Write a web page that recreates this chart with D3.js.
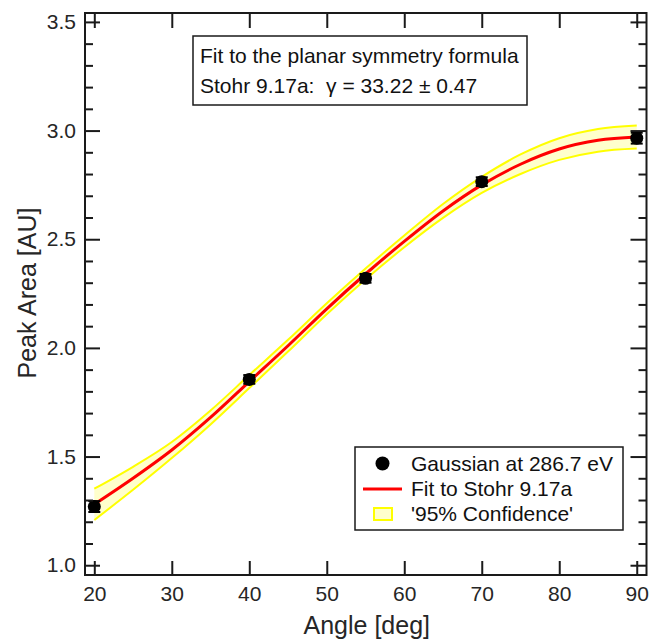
<!DOCTYPE html>
<html>
<head>
<meta charset="utf-8">
<script src="https://cdn.jsdelivr.net/npm/d3@7"></script>
<style>
  html, body { margin: 0; padding: 0; background: #fff; }
  svg { display: block; font-family: "Liberation Sans", Arial, Helvetica, sans-serif; }
</style>
</head>
<body>
<svg id="chart" width="652" height="640"></svg>
<script>
// ---- data ----
const angles = [20, 40, 55, 70, 90];
const peakArea = [1.27, 1.855, 2.32, 2.765, 2.965];
const peakErr = [0.025, 0.02, 0.02, 0.02, 0.025];

const fitAngles = [20, 25, 30, 35, 40, 45, 50, 55, 60, 65, 70, 75, 80, 85, 90];
const fitValues = [1.28, 1.40, 1.53, 1.68, 1.845, 2.01, 2.18, 2.34, 2.49, 2.63, 2.75, 2.845, 2.915, 2.955, 2.97];
const bandUpper = [1.352, 1.453, 1.567, 1.712, 1.875, 2.037, 2.205, 2.365, 2.517, 2.662, 2.787, 2.89, 2.965, 3.007, 3.023];
const bandLower = [1.208, 1.347, 1.493, 1.648, 1.815, 1.983, 2.155, 2.315, 2.463, 2.598, 2.713, 2.80, 2.865, 2.903, 2.917];

const xTicks = [20, 30, 40, 50, 60, 70, 80, 90];
const yTicks = [1.0, 1.5, 2.0, 2.5, 3.0, 3.5];
const yMinorTicks = [1.1, 1.2, 1.3, 1.4, 1.6, 1.7, 1.8, 1.9, 2.1, 2.2, 2.3, 2.4, 2.6, 2.7, 2.8, 2.9, 3.1, 3.2, 3.3, 3.4];

const xLabel = "Angle [deg]";
const yLabel = "Peak Area [AU]";
const noteLines = ["Fit to the planar symmetry formula", "Stohr 9.17a:  \u03B3 = 33.22 \u00B1 0.47"];
const legendLabels = ["Gaussian at 286.7 eV", "Fit to Stohr 9.17a", "'95% Confidence'"];

// ---- layout ----
const plotL = 85, plotR = 646.5, plotT = 13, plotB = 575;
const x = d3.scaleLinear().domain([18.8, 91.26]).range([plotL, plotR]);
const y = d3.scaleLinear().domain([0.955, 3.541]).range([plotB, plotT]);

const svg = d3.select("#chart");
const ink = "#1a1a1a";
const textCol = "#262626";

// confidence band
const fitData = fitAngles.map((a, i) => ({a, v: fitValues[i], hi: bandUpper[i], lo: bandLower[i]}));
svg.append("path").datum(fitData)
  .attr("d", d3.area().x(d => x(d.a)).y0(d => y(d.lo)).y1(d => y(d.hi)).curve(d3.curveMonotoneX))
  .attr("fill", "#ffffcc").attr("stroke", "none");
["hi", "lo"].forEach(k => {
  svg.append("path").datum(fitData)
    .attr("d", d3.line().x(d => x(d.a)).y(d => y(d[k])).curve(d3.curveMonotoneX))
    .attr("fill", "none").attr("stroke", "#ffff00").attr("stroke-width", 2);
});
// fit line
svg.append("path").datum(fitData)
  .attr("d", d3.line().x(d => x(d.a)).y(d => y(d.v)).curve(d3.curveMonotoneX))
  .attr("fill", "none").attr("stroke", "#ff0000").attr("stroke-width", 3);

// data points with error bars
const pts = angles.map((a, i) => ({a, v: peakArea[i], e: peakErr[i]}));
const pg = svg.append("g");
pts.forEach(p => {
  const cx = x(p.a), y1 = y(p.v + p.e), y0 = y(p.v - p.e);
  pg.append("line").attr("x1", cx).attr("x2", cx).attr("y1", y1).attr("y2", y0)
    .attr("stroke", "#000").attr("stroke-width", 2);
  [y1, y0].forEach(yy => pg.append("line").attr("x1", cx - 6).attr("x2", cx + 6)
    .attr("y1", yy).attr("y2", yy).attr("stroke", "#000").attr("stroke-width", 2));
  pg.append("circle").attr("cx", cx).attr("cy", y(p.v)).attr("r", 6.5).attr("fill", "#000");
});

// axes
function styleAxis(g) {
  g.select(".domain").remove();
  g.selectAll(".tick line").attr("stroke", ink).attr("stroke-width", 2);
  g.selectAll(".tick text").attr("fill", textCol).style("font-size", "21px");
}
svg.append("g").attr("transform", `translate(0,${plotB})`)
  .call(d3.axisBottom(x).tickValues(xTicks).tickSize(-14).tickPadding(11).tickFormat(d3.format("d")))
  .call(styleAxis);
svg.append("g").attr("transform", `translate(0,${plotT})`)
  .call(d3.axisTop(x).tickValues(xTicks).tickSize(-15).tickFormat(""))
  .call(styleAxis);
svg.append("g").attr("transform", `translate(${plotL},0)`)
  .call(d3.axisLeft(y).tickValues(yTicks).tickSize(-15).tickPadding(9).tickFormat(d3.format(".1f")))
  .call(styleAxis);
svg.append("g").attr("transform", `translate(${plotL},0)`)
  .call(d3.axisLeft(y).tickValues(yMinorTicks).tickSize(-8).tickFormat(""))
  .call(styleAxis);
svg.append("g").attr("transform", `translate(${plotR},0)`)
  .call(d3.axisRight(y).tickValues(yTicks).tickSize(-16).tickFormat(""))
  .call(styleAxis);
svg.append("g").attr("transform", `translate(${plotR},0)`)
  .call(d3.axisRight(y).tickValues(yMinorTicks).tickSize(-8).tickFormat(""))
  .call(styleAxis);

// frame
svg.append("rect").attr("x", plotL).attr("y", plotT).attr("width", plotR - plotL).attr("height", plotB - plotT)
  .attr("fill", "none").attr("stroke", ink).attr("stroke-width", 2);

// axis titles
svg.append("text").attr("x", (plotL + plotR) / 2 + 1).attr("y", 634).attr("text-anchor", "middle")
  .attr("fill", textCol).style("font-size", "25px").text(xLabel);
svg.append("text").attr("transform", "translate(36,293) rotate(-90)").attr("text-anchor", "middle")
  .attr("fill", textCol).style("font-size", "25px").text(yLabel);

// annotation box
svg.append("rect").attr("x", 193).attr("y", 36).attr("width", 334).attr("height", 69)
  .attr("fill", "#fff").attr("stroke", ink).attr("stroke-width", 1.5);
noteLines.forEach((t, i) => {
  svg.append("text").attr("x", 200).attr("y", 63 + i * 30).attr("fill", "#111")
    .style("font-size", "21px").style("white-space", "pre").text(t);
});

// legend
const lg = svg.append("g");
lg.append("rect").attr("x", 355).attr("y", 447).attr("width", 268).attr("height", 83)
  .attr("fill", "#fff").attr("stroke", ink).attr("stroke-width", 1.5);
lg.append("circle").attr("cx", 382.5).attr("cy", 463.5).attr("r", 7).attr("fill", "#000");
lg.append("line").attr("x1", 363).attr("x2", 402).attr("y1", 489).attr("y2", 489)
  .attr("stroke", "#ff0000").attr("stroke-width", 3);
lg.append("rect").attr("x", 374).attr("y", 508).attr("width", 18).attr("height", 12)
  .attr("fill", "#ffffcc").attr("stroke", "#ffff00").attr("stroke-width", 2);
legendLabels.forEach((t, i) => {
  lg.append("text").attr("x", 411).attr("y", 471 + i * 25).attr("fill", "#111")
    .style("font-size", "21px").text(t);
});
</script>
</body>
</html>
